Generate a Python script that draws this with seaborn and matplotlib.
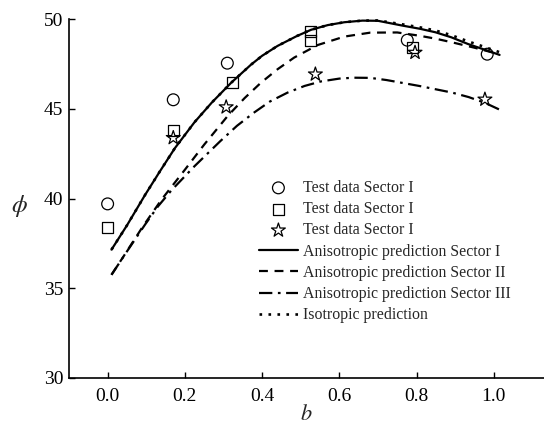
import pandas as pd
import seaborn as sns
import matplotlib.pyplot as plt

# test data
b_circle = [0.0, 0.17, 0.31, 0.776, 0.983]
phi_circle = [39.7, 45.5, 47.54, 48.82, 48.04]
b_square = [0.0, 0.17, 0.324, 0.525, 0.525, 0.79]
phi_square = [38.4, 43.79, 46.46, 49.29, 48.82, 48.4]
b_star = [0.17, 0.307, 0.538, 0.796, 0.977]
phi_star = [43.38, 45.09, 46.92, 48.13, 45.52]

# prediction curves
b_aniso1 = [0.01, 0.05, 0.097, 0.135, 0.174, 0.225, 0.27, 0.32, 0.371, 0.40, 0.44, 0.49, 0.527,
            0.57, 0.613, 0.66, 0.7, 0.764, 0.81, 0.849, 0.89, 0.934, 0.975, 1.015]
phi_aniso1 = [37.15, 38.5, 40.2, 41.5, 42.8, 44.25, 45.35, 46.45, 47.45, 47.95, 48.5, 49.05, 49.4,
              49.66, 49.82, 49.91, 49.9, 49.63, 49.45, 49.26, 48.98, 48.6, 48.3, 48.0]
b_aniso2 = [0.01, 0.042, 0.09, 0.14, 0.2, 0.25, 0.311, 0.355, 0.397, 0.44, 0.483, 0.544,
            0.613, 0.68, 0.75, 0.807, 0.85, 0.892, 0.95, 1.012]
phi_aniso2 = [35.75, 36.8, 38.4, 39.95, 41.6, 43.0, 44.6, 45.6, 46.45, 47.2, 47.85, 48.55,
              49.02, 49.24, 49.25, 49.07, 48.9, 48.7, 48.4, 48.05]
b_aniso3 = [0.01, 0.05, 0.097, 0.13, 0.165, 0.225, 0.292, 0.335, 0.38, 0.42, 0.466, 0.51,
            0.552, 0.6, 0.637, 0.68, 0.722, 0.807, 0.892, 0.935, 0.977, 1.015]
phi_aniso3 = [35.75, 37.05, 38.55, 39.55, 40.45, 41.8, 43.2, 44.05, 44.8, 45.4, 45.9, 46.27,
              46.52, 46.68, 46.73, 46.72, 46.6, 46.27, 45.9, 45.65, 45.33, 44.95]
b_iso = [0.01, 0.05, 0.097, 0.135, 0.174, 0.225, 0.27, 0.32, 0.371, 0.40, 0.44, 0.49, 0.527,
         0.57, 0.613, 0.66, 0.7, 0.764, 0.81, 0.849, 0.89, 0.934, 0.975, 1.015]
phi_iso = [37.15, 38.5, 40.2, 41.5, 42.8, 44.25, 45.35, 46.45, 47.45, 47.95, 48.5, 49.05, 49.4,
           49.66, 49.82, 49.91, 49.92, 49.7, 49.53, 49.36, 49.1, 48.75, 48.45, 48.15]

sns.set_style("ticks")
plt.rcParams["font.family"] = ["Liberation Serif", "DejaVu Serif"]
plt.rcParams["mathtext.fontset"] = "stix"

fig = plt.figure(figsize=(5.44, 4.24), dpi=100)
ax = fig.add_axes([69 / 544, 46 / 424, 475 / 544, 359 / 424])

mk = dict(color="none", edgecolor="k", linewidth=0.9, zorder=3)
sns.scatterplot(x=b_circle, y=phi_circle, marker="o", s=72, label="Test data Sector I", ax=ax, **mk)
sns.scatterplot(x=b_square, y=phi_square, marker="s", s=62, label="Test data Sector I", ax=ax, **mk)
sns.scatterplot(x=b_star, y=phi_star, marker="*", s=110, label="Test data Sector I", ax=ax, **mk)

sns.lineplot(x=b_aniso1, y=phi_aniso1, sort=False, estimator=None, color="k", lw=1.6,
             label="Anisotropic prediction Sector I", ax=ax)
sns.lineplot(x=b_aniso2, y=phi_aniso2, sort=False, estimator=None, color="k", lw=1.6,
             dashes=(4, 3), label="Anisotropic prediction Sector II", ax=ax)
sns.lineplot(x=b_aniso3, y=phi_aniso3, sort=False, estimator=None, color="k", lw=1.6,
             label="Anisotropic prediction Sector III", ax=ax)
ax.lines[-1].set_dashes((6, 2.5, 1.2, 2.5))
sns.lineplot(x=b_iso, y=phi_iso, sort=False, estimator=None, color="k", lw=1.9,
             label="Isotropic prediction", ax=ax)
ax.lines[-1].set_dashes((1, 2.4))

ax.set_xlim(-0.1, 1.13)
ax.set_ylim(30, 50)
ax.set_xticks([0.0, 0.2, 0.4, 0.6, 0.8, 1.0])
ax.set_yticks([30, 35, 40, 45, 50])
ax.set_xticklabels(["0.0", "0.2", "0.4", "0.6", "0.8", "1.0"])
ax.tick_params(direction="in", length=4.5, width=1.0, labelsize=14, colors="k")
ax.tick_params(axis="x", pad=7)
ax.tick_params(axis="y", pad=4)
sns.despine(ax=ax)
for s in ["left", "bottom"]:
    ax.spines[s].set_linewidth(1.2)
    ax.spines[s].set_color("k")

ax.set_xlabel(r"$b$", fontsize=16, labelpad=0)
ax.set_ylabel(r"$\phi$", fontsize=18, rotation=0, va="center")
ax.yaxis.set_label_coords(-0.105, 0.48)

ax.legend(loc="upper left", bbox_to_anchor=(259 / 544, 1 - 180 / 424),
          bbox_transform=fig.transFigure, frameon=False, fontsize=11.4,
          borderpad=0, borderaxespad=0, labelspacing=0.33, handlelength=2.45,
          handletextpad=0.3)

fig.savefig("out.png", dpi=100)
